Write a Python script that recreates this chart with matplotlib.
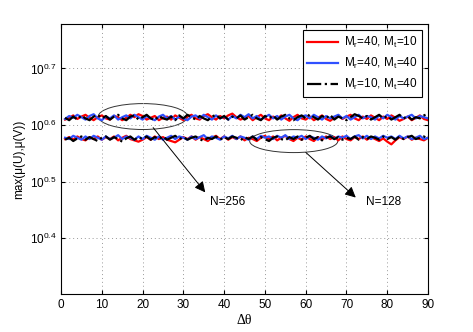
import matplotlib
matplotlib.use('Agg')
import matplotlib.pyplot as plt
import numpy as np
from matplotlib.patches import Ellipse
from matplotlib.ticker import NullLocator

plt.rcParams['font.family'] = ['Liberation Sans', 'DejaVu Sans']
plt.rcParams['mathtext.fontset'] = 'custom'
plt.rcParams['mathtext.rm'] = 'Liberation Sans'
plt.rcParams['mathtext.it'] = 'Liberation Sans:italic'
plt.rcParams['mathtext.default'] = 'regular'

# delta theta, 1..90 degrees
dtheta = np.arange(1, 91)

# N=256 band
red_256 = [4.07,4.10,4.14,4.08,4.12,4.15,4.10,4.06,4.11,4.14,
           4.09,4.07,4.13,4.11,4.06,4.10,4.15,4.11,4.16,4.13,
           4.07,4.10,4.13,4.06,4.10,4.12,4.07,4.14,4.10,4.06,
           4.12,4.15,4.09,4.07,4.13,4.16,4.11,4.07,4.13,4.09,
           4.14,4.17,4.11,4.07,4.10,4.13,4.06,4.11,4.15,4.09,
           4.06,4.12,4.08,4.14,4.09,4.05,4.11,4.15,4.09,4.07,
           4.12,4.06,4.10,4.14,4.08,4.05,4.10,4.14,4.08,4.12,
           4.15,4.09,4.06,4.12,4.08,4.14,4.10,4.06,4.12,4.08,
           4.14,4.10,4.05,4.08,4.12,4.06,4.10,4.14,4.08,4.06]
blue_256 = [4.08,4.13,4.10,4.15,4.11,4.07,4.13,4.16,4.09,4.06,
            4.12,4.09,4.14,4.07,4.11,4.14,4.09,4.15,4.11,4.07,
            4.13,4.09,4.06,4.12,4.15,4.09,4.13,4.07,4.12,4.09,
            4.06,4.12,4.14,4.09,4.15,4.11,4.07,4.14,4.09,4.12,
            4.07,4.13,4.09,4.15,4.11,4.16,4.09,4.13,4.07,4.11,
            4.15,4.09,4.13,4.07,4.12,4.15,4.09,4.06,4.12,4.14,
            4.09,4.15,4.11,4.07,4.13,4.09,4.12,4.15,4.09,4.13,
            4.07,4.11,4.15,4.09,4.13,4.11,4.07,4.14,4.09,4.15,
            4.11,4.07,4.13,4.09,4.12,4.15,4.09,4.13,4.11,4.09]
black_256 = [4.10,4.06,4.12,4.07,4.14,4.09,4.06,4.12,4.15,4.09,
             4.13,4.07,4.12,4.15,4.09,4.06,4.12,4.14,4.07,4.11,
             4.15,4.09,4.06,4.13,4.09,4.07,4.12,4.06,4.14,4.09,
             4.15,4.11,4.07,4.13,4.09,4.06,4.12,4.15,4.09,4.13,
             4.07,4.12,4.09,4.14,4.07,4.11,4.15,4.09,4.06,4.13,
             4.09,4.14,4.07,4.12,4.15,4.09,4.06,4.11,4.14,4.09,
             4.16,4.11,4.07,4.13,4.09,4.15,4.07,4.12,4.09,4.06,
             4.11,4.16,4.13,4.09,4.13,4.07,4.11,4.15,4.09,4.13,
             4.07,4.11,4.15,4.09,4.13,4.07,4.11,4.09,4.14,4.17]

# N=128 band
red_128 = [3.76,3.79,3.75,3.80,3.76,3.74,3.79,3.76,3.80,3.75,
           3.79,3.76,3.80,3.74,3.78,3.81,3.76,3.74,3.72,3.75,
           3.79,3.75,3.80,3.76,3.79,3.75,3.73,3.71,3.75,3.79,
           3.76,3.80,3.75,3.79,3.76,3.73,3.78,3.81,3.76,3.80,
           3.75,3.79,3.76,3.80,3.74,3.78,3.76,3.73,3.78,3.81,
           3.76,3.80,3.74,3.78,3.81,3.76,3.73,3.78,3.75,3.80,
           3.76,3.73,3.79,3.75,3.80,3.76,3.79,3.74,3.80,3.76,
           3.74,3.79,3.76,3.80,3.75,3.79,3.76,3.73,3.77,3.72,
           3.68,3.74,3.79,3.76,3.80,3.75,3.78,3.76,3.74,3.78]
blue_128 = [3.78,3.76,3.81,3.78,3.75,3.80,3.76,3.81,3.78,3.75,
            3.80,3.76,3.78,3.82,3.76,3.80,3.78,3.75,3.80,3.76,
            3.81,3.78,3.75,3.80,3.75,3.78,3.81,3.76,3.80,3.78,
            3.75,3.80,3.76,3.79,3.82,3.76,3.80,3.78,3.75,3.80,
            3.77,3.81,3.76,3.80,3.78,3.75,3.80,3.76,3.81,3.78,
            3.80,3.76,3.81,3.78,3.82,3.76,3.80,3.78,3.81,3.76,
            3.80,3.78,3.75,3.80,3.77,3.81,3.76,3.80,3.78,3.81,
            3.76,3.80,3.82,3.77,3.81,3.76,3.80,3.77,3.81,3.78,
            3.80,3.76,3.81,3.77,3.80,3.76,3.78,3.81,3.76,3.78]
black_128 = [3.75,3.78,3.73,3.77,3.80,3.75,3.79,3.76,3.73,3.78,
             3.80,3.75,3.79,3.76,3.72,3.77,3.80,3.75,3.79,3.76,
             3.80,3.75,3.79,3.76,3.80,3.75,3.78,3.81,3.76,3.79,
             3.75,3.78,3.80,3.76,3.73,3.78,3.76,3.80,3.75,3.79,
             3.76,3.80,3.78,3.74,3.79,3.76,3.80,3.75,3.79,3.76,
             3.73,3.78,3.80,3.76,3.74,3.79,3.76,3.80,3.75,3.78,
             3.81,3.76,3.79,3.74,3.78,3.80,3.76,3.79,3.75,3.78,
             3.76,3.80,3.75,3.79,3.76,3.80,3.78,3.75,3.80,3.76,
             3.79,3.75,3.80,3.76,3.79,3.81,3.76,3.78,3.80,3.76]

ytick_exp = [0.4, 0.5, 0.6, 0.7]
xticks = [0, 10, 20, 30, 40, 50, 60, 70, 80, 90]

fig = plt.figure(figsize=(4.73, 3.32), dpi=100)
ax = fig.add_axes([0.129, 0.114, 0.776, 0.813])

ax.plot(dtheta, red_256, color='red', lw=1.6, label='M$_r$=40, M$_t$=10')
ax.plot(dtheta, blue_256, color='#3050ff', lw=1.6, label='M$_r$=40, M$_t$=40')
ax.plot(dtheta, black_256, color='black', lw=1.6, ls='-.', label='M$_r$=10, M$_t$=40')
ax.plot(dtheta, red_128, color='red', lw=1.6)
ax.plot(dtheta, blue_128, color='#3050ff', lw=1.6)
ax.plot(dtheta, black_128, color='black', lw=1.6, ls='-.')

ax.set_yscale('log')
ax.set_ylim(2, 6)
ax.set_xlim(0, 90)
ax.set_yticks([10 ** e for e in ytick_exp])
ax.set_yticklabels(['$10^{%.1f}$' % e for e in ytick_exp])
ax.yaxis.set_minor_locator(NullLocator())
ax.set_xticks(xticks)
ax.tick_params(direction='in', top=True, right=True, labelsize=8.5, length=3)
ax.grid(True, ls=(0, (1, 3)), color='#999999', lw=0.7)

ax.set_xlabel('\u0394\u03b8', fontsize=10, family='Liberation Serif', labelpad=2)
ax.set_ylabel('max(\u03bc(U),\u03bc(V))', fontsize=8.5, labelpad=3)

leg = ax.legend(loc='upper right', fontsize=8.5, fancybox=False, edgecolor='black',
                framealpha=1, handlelength=2.6, handletextpad=0.5, borderaxespad=0.5)
leg.get_frame().set_linewidth(0.8)

ax.add_patch(Ellipse((0.223, 0.658), 0.243, 0.096, transform=ax.transAxes,
                     fill=False, ec='#333333', lw=0.7))
ax.add_patch(Ellipse((0.634, 0.567), 0.240, 0.085, transform=ax.transAxes,
                     fill=False, ec='#333333', lw=0.7))

arrow = dict(arrowstyle='-|>', mutation_scale=16, lw=0.7, color='black',
             shrinkA=0, shrinkB=0)
ax.annotate('', xy=(0.393, 0.377), xytext=(0.251, 0.617),
            xycoords='axes fraction', arrowprops=arrow)
ax.annotate('', xy=(0.803, 0.358), xytext=(0.667, 0.525),
            xycoords='axes fraction', arrowprops=arrow)
ax.text(0.407, 0.34, 'N=256', transform=ax.transAxes, fontsize=8.5, va='center')
ax.text(0.831, 0.34, 'N=128', transform=ax.transAxes, fontsize=8.5, va='center')

for s in ax.spines.values():
    s.set_linewidth(0.8)

fig.savefig('out.png', dpi=100)
